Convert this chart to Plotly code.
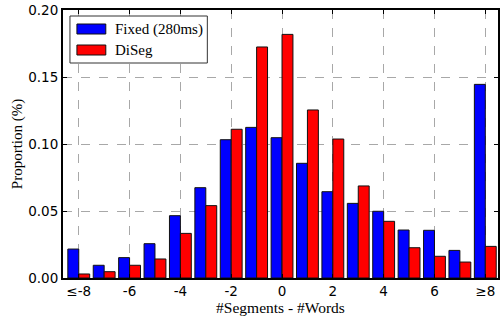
import plotly.graph_objects as go

diffs = [-8, -7, -6, -5, -4, -3, -2, -1, 0, 1, 2, 3, 4, 5, 6, 7, 8]
fixed = [0.0216, 0.0095, 0.0152, 0.0256, 0.0465, 0.0674, 0.1032, 0.1124, 0.1047,
         0.0856, 0.0644, 0.0557, 0.0498, 0.0358, 0.0356, 0.0206, 0.1445]
diseg = [0.0030, 0.0047, 0.0095, 0.0142, 0.0333, 0.0540, 0.1110, 0.1724, 0.1818,
         0.1254, 0.1037, 0.0687, 0.0423, 0.0226, 0.0162, 0.0119, 0.0236]
tick_vals = [-8, -6, -4, -2, 0, 2, 4, 6, 8]
tick_text = ["≤-8", "-6", "-4", "-2", "0", "2", "4", "6", "≥8"]
y_ticks = [0.0, 0.05, 0.10, 0.15, 0.20]
names = ["Fixed (280ms)", "DiSeg"]
colors = ["#0000ff", "#ff0000"]

serif = "Liberation Serif, Times New Roman, serif"
sans = "DejaVu Sans, sans-serif"

fig = go.Figure()
for name, vals, col in zip(names, [fixed, diseg], colors):
    fig.add_trace(go.Bar(x=diffs, y=vals, name=name, marker=dict(color=col, line=dict(color="#111111", width=1)),
                         showlegend=False))

fig.update_layout(
    width=502, height=318,
    margin=dict(l=63, r=2, t=10, b=40),
    paper_bgcolor="white", plot_bgcolor="white",
    barmode="group", bargap=0.14, bargroupgap=0,
    font=dict(family=sans, size=13.5, color="black"),
)
axis_common = dict(showline=True, linecolor="black", linewidth=2, mirror="ticks",
                   ticks="inside", ticklen=4, tickcolor="black",
                   showgrid=True, gridcolor="#a8a8a8", griddash="dash", gridwidth=1,
                   zeroline=False, tickfont=dict(family=sans, size=13.5, color="black"))
fig.update_xaxes(range=[-8.62, 8.5], tickmode="array", tickvals=tick_vals, ticktext=tick_text,
                 title=dict(text="#Segments - #Words", font=dict(family=serif, size=15.5), standoff=3),
                 **axis_common)
fig.update_yaxes(range=[0, 0.2], tickmode="array", tickvals=y_ticks, tickformat=".2f",
                 title=dict(text="Proportion (%)", font=dict(family=serif, size=15), standoff=2),
                 **axis_common)

# manual legend (paper coordinates via pixel conversion)
pl, pr, pt, pb = 63, 500, 10, 278
def px(x): return (x - pl) / (pr - pl)
def py(y): return (pb - y) / (pb - pt)

fig.add_shape(type="rect", xref="paper", yref="paper", x0=px(70), x1=px(208), y0=py(63), y1=py(16),
              line=dict(color="#333333", width=1), fillcolor="white", layer="above")
for i, (name, col) in enumerate(zip(names, colors)):
    yc = 29 + i * 21
    fig.add_shape(type="rect", xref="paper", yref="paper", x0=px(77), x1=px(106), y0=py(yc + 5), y1=py(yc - 5),
                  line=dict(color="#111111", width=1), fillcolor=col, layer="above")
    fig.add_annotation(xref="paper", yref="paper", x=px(113), y=py(yc), text=name, showarrow=False,
                       xanchor="left", yanchor="middle", font=dict(family=serif, size=15, color="black"))

fig.write_html("out.html", config={"displayModeBar": False},
               post_script="document.body.style.margin='0';document.body.style.overflow='hidden';")
